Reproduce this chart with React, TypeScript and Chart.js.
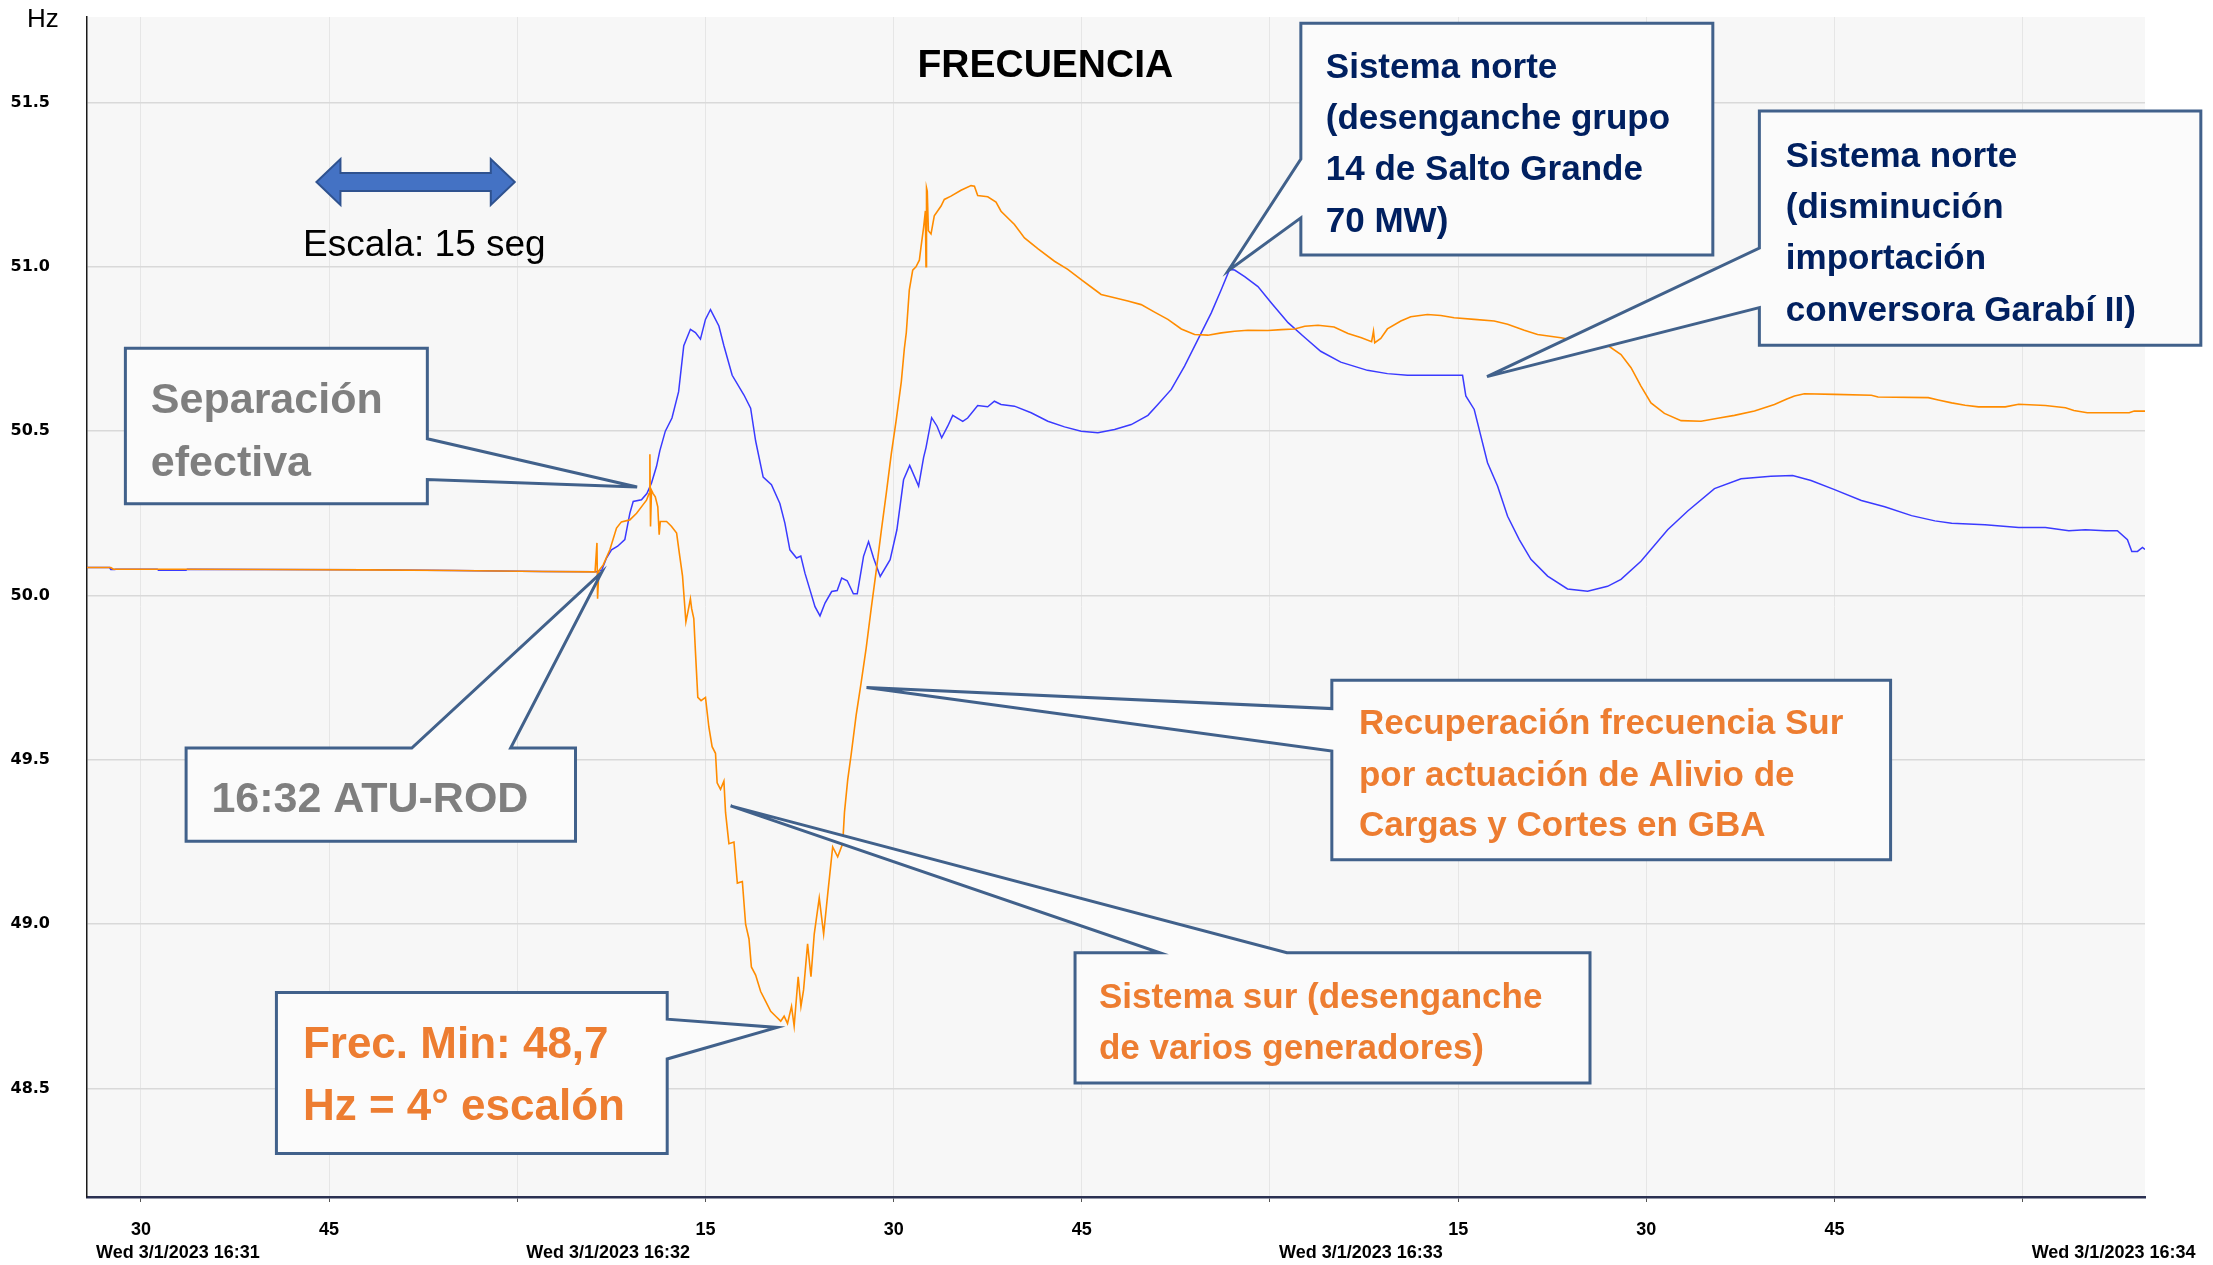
import React, { useEffect, useRef } from "react";
import { Chart, registerables } from "chart.js";

Chart.register(...registerables);

// time axis: seconds after Wed 3/1/2023 16:31:00
const xTickValues = [30, 45, 60, 75, 90, 105, 120, 135, 150, 165, 180];
const yTickValues = [48.5, 49.0, 49.5, 50.0, 50.5, 51.0, 51.5];
const minuteStarts = [0, 60, 120, 180];
const minuteLabels = [
  "Wed 3/1/2023 16:31",
  "Wed 3/1/2023 16:32",
  "Wed 3/1/2023 16:33",
  "Wed 3/1/2023 16:34",
];

// Sistema sur (orange)
const surT = [
  25.7, 27.6, 27.8, 33.0, 40.0, 48.0, 55.0, 62.0, 66.2, 66.35, 66.4, 66.5, 66.85, 67.38, 67.91, 68.3, 68.97,
  69.51, 70.0, 70.3, 70.5, 70.57, 70.62, 70.7, 70.83, 71.0, 71.2, 71.31, 71.4, 71.9, 72.3, 72.7, 72.95, 73.17,
  73.44, 73.6, 73.8, 73.9, 74.07, 74.2, 74.39, 74.65, 75.0, 75.27, 75.53, 75.8, 75.93, 76.2, 76.47, 76.6,
  76.87, 77.27, 77.54, 77.94, 78.2, 78.47, 78.66, 79.0, 79.4, 79.8, 80.2, 80.6, 81.0, 81.27, 81.54, 81.86,
  82.07, 82.39, 82.61, 82.82, 83.14, 83.41, 83.67, 84.07, 84.42, 84.74, 85.14, 85.54, 85.94, 86.08, 86.34,
  86.61, 87.01, 87.41, 87.81, 88.21, 88.61, 89.01, 89.41, 89.81, 90.21, 90.61, 90.85, 91.01, 91.25, 91.52,
  91.78, 92.05, 92.18, 92.39, 92.53, 92.58, 92.62, 92.68, 92.77, 92.98, 93.24, 93.78, 94.04, 94.57, 95.37,
  96.17, 96.44, 96.7, 97.5, 98.16, 98.56, 99.63, 100.43, 101.49, 102.82, 103.88, 104.95, 106.01, 106.54,
  107.61, 108.67, 109.73, 110.8, 111.86, 112.93, 113.99, 115.05, 116.12, 117.18, 118.24, 119.84, 120.9,
  121.96, 122.77, 123.83, 125.11, 126.22, 127.29, 128.1, 128.25, 128.35, 128.83, 129.36, 130.43, 131.22,
  132.55, 133.62, 134.68, 136.28, 137.87, 138.94, 140.27, 141.33, 143.19, 145.05, 146.91, 147.98, 148.78,
  149.57, 150.37, 151.44, 152.77, 154.36, 155.69, 157.02, 158.62, 160.21, 161.2, 161.81, 162.6, 165.0,
  167.94, 168.47, 172.47, 173.27, 174.34, 175.41, 176.48, 178.61, 179.68, 181.81, 183.41, 184.08, 185.15,
  188.49, 188.89, 189.75,
];
const surHz = [
  50.085, 50.085, 50.08, 50.08, 50.079, 50.078, 50.076, 50.073, 50.072, 50.16, 49.99, 50.075, 50.093, 50.139,
  50.205, 50.224, 50.23, 50.25, 50.275, 50.29, 50.31, 50.43, 50.21, 50.32, 50.31, 50.3, 50.27, 50.185, 50.225,
  50.225, 50.21, 50.19, 50.12, 50.06, 49.92, 49.95, 49.99, 49.96, 49.93, 49.83, 49.69, 49.68, 49.69, 49.6,
  49.54, 49.52, 49.43, 49.41, 49.435, 49.34, 49.245, 49.25, 49.125, 49.13, 49.0, 48.955, 48.87, 48.845,
  48.795, 48.765, 48.735, 48.72, 48.705, 48.72, 48.698, 48.75, 48.69, 48.84, 48.75, 48.8, 48.94, 48.84, 48.97,
  49.08, 48.97, 49.09, 49.235, 49.205, 49.245, 49.34, 49.44, 49.515, 49.635, 49.735, 49.84, 49.96, 50.075,
  50.195, 50.31, 50.43, 50.535, 50.65, 50.75, 50.8, 50.93, 50.99, 51.0, 51.02, 51.06, 51.12, 51.17, 51.0,
  51.24, 51.23, 51.11, 51.1, 51.155, 51.185, 51.205, 51.215, 51.233, 51.247, 51.245, 51.217, 51.213, 51.197,
  51.169, 51.129, 51.088, 51.055, 51.017, 50.992, 50.961, 50.931, 50.916, 50.906, 50.896, 50.885, 50.862,
  50.84, 50.811, 50.794, 50.792, 50.799, 50.804, 50.807, 50.806, 50.809, 50.811, 50.819, 50.822, 50.817,
  50.797, 50.784, 50.772, 50.804, 50.769, 50.782, 50.811, 50.835, 50.848, 50.855, 50.852, 50.845, 50.84,
  50.835, 50.825, 50.807, 50.794, 50.784, 50.771, 50.761, 50.733, 50.693, 50.637, 50.586, 50.554, 50.532,
  50.53, 50.539, 50.548, 50.561, 50.581, 50.598, 50.607, 50.614, 50.612, 50.609, 50.604, 50.602, 50.595,
  50.586, 50.579, 50.574, 50.574, 50.582, 50.578, 50.571, 50.563, 50.556, 50.556, 50.561, 50.561,
];

// Sistema norte (blue)
const norteT = [
  25.7, 27.5, 27.6, 27.9, 28.0, 31.3, 31.4, 33.6, 33.7, 40.0, 48.0, 55.0, 62.0, 66.3, 66.73, 67.11, 67.51,
  68.0, 68.57, 68.97, 69.24, 69.9, 70.33, 70.7, 71.1, 71.36, 71.8, 72.33, 72.86, 73.27, 73.8, 74.2, 74.6,
  75.0, 75.4, 76.07, 76.47, 77.13, 78.07, 78.6, 79.0, 79.6, 80.26, 80.93, 81.33, 81.73, 82.26, 82.6, 82.93,
  83.33, 83.73, 84.13, 84.53, 85.06, 85.5, 85.86, 86.3, 86.79, 87.1, 87.6, 88.0, 88.4, 88.93, 89.72, 90.26,
  90.79, 91.28, 91.99, 92.39, 92.58, 93.03, 93.46, 93.83, 94.31, 94.71, 95.51, 95.9, 96.7, 97.5, 98.03, 98.56,
  99.63, 100.96, 102.29, 103.62, 104.95, 106.28, 107.61, 108.94, 110.27, 111.06, 112.13, 113.19, 114.26,
  115.32, 116.12, 116.78, 117.18, 117.98, 119.04, 120.11, 121.44, 122.77, 124.04, 125.64, 127.77, 129.36,
  130.96, 133.09, 135.35, 135.61, 136.28, 136.81, 137.34, 138.14, 138.94, 139.87, 140.8, 142.13, 143.72,
  145.32, 146.91, 147.98, 149.57, 151.7, 153.3, 155.43, 157.55, 159.93, 161.66, 163.13, 165.0, 167.14, 169.0,
  171.14, 173.0, 174.34, 177.0, 179.68, 181.81, 183.68, 185.0, 186.6, 187.55, 188.35, 188.7, 189.15, 189.55,
  189.75,
];
const norteHz = [
  50.085, 50.085, 50.079, 50.079, 50.08, 50.08, 50.077, 50.077, 50.08, 50.079, 50.078, 50.076, 50.073, 50.072,
  50.077, 50.114, 50.139, 50.15, 50.17, 50.25, 50.286, 50.291, 50.31, 50.342, 50.393, 50.44, 50.5, 50.54,
  50.62, 50.76, 50.81, 50.8, 50.78, 50.84, 50.87, 50.82, 50.76, 50.67, 50.61, 50.57, 50.47, 50.36, 50.337,
  50.28, 50.22, 50.139, 50.114, 50.12, 50.068, 50.017, 49.966, 49.938, 49.977, 50.012, 50.015, 50.053,
  50.045, 50.005, 50.005, 50.119, 50.164, 50.114, 50.058, 50.109, 50.2, 50.352, 50.396, 50.333, 50.42, 50.45,
  50.541, 50.515, 50.48, 50.515, 50.548, 50.53, 50.54, 50.578, 50.574, 50.591, 50.581, 50.576, 50.556, 50.53,
  50.513, 50.5, 50.495, 50.505, 50.52, 50.548, 50.581, 50.627, 50.698, 50.779, 50.86, 50.931, 50.992, 50.99,
  50.97, 50.94, 50.89, 50.83, 50.785, 50.743, 50.71, 50.685, 50.675, 50.67, 50.67, 50.67, 50.607, 50.566,
  50.485, 50.404, 50.333, 50.241, 50.17, 50.11, 50.059, 50.02, 50.013, 50.028, 50.049, 50.104, 50.2, 50.257,
  50.325, 50.355, 50.363, 50.365, 50.35, 50.322, 50.289, 50.27, 50.243, 50.227, 50.22, 50.215, 50.207, 50.207,
  50.197, 50.2, 50.197, 50.197, 50.17, 50.134, 50.134, 50.146, 50.14,
];

const SANS = '"Liberation Sans", Arial, sans-serif';
const GRAY = "#7f7f7f";
const ORANGE = "#ed7d31";
const NAVY = "#002060";

type Callout = {
  lines: string[];
  color: string;
  size: number;
  box: [number, number, number, number]; // tLeft, hzTop, tRight, hzBottom
  side: "left" | "right" | "top";
  attach: [number, number];
  tip: [number, number];
  textT: number;
  lineHz: number[];
};

const callouts: Callout[] = [
  {
    lines: ["Separación", "efectiva"], color: GRAY, size: 43,
    box: [28.76, 50.752, 52.83, 50.279], side: "right", attach: [50.477, 50.353], tip: [69.55, 50.33],
    textT: 30.79, lineHz: [50.601, 50.41],
  },
  {
    lines: ["16:32 ATU-ROD"], color: GRAY, size: 43,
    box: [33.6, 49.536, 64.64, 49.252], side: "top", attach: [51.59, 59.47], tip: [66.72, 50.07],
    textT: 35.62, lineHz: [49.386],
  },
  {
    lines: ["Frec. Min: 48,7", "Hz = 4° escalón"], color: ORANGE, size: 44,
    box: [40.8, 48.792, 71.95, 48.302], side: "right", attach: [48.711, 48.59], tip: [80.71, 48.686],
    textT: 42.91, lineHz: [48.643, 48.454],
  },
  {
    lines: ["Sistema sur (desenganche", "de varios generadores)"], color: ORANGE, size: 35,
    box: [104.46, 48.913, 145.51, 48.517], side: "top", attach: [111.22, 121.35], tip: [77.0, 49.36],
    textT: 106.36, lineHz: [48.784, 48.629],
  },
  {
    lines: ["Recuperación frecuencia Sur", "por actuación de Alivio de", "Cargas y Cortes en GBA"],
    color: ORANGE, size: 35,
    box: [124.93, 49.742, 169.47, 49.196], side: "left", attach: [49.656, 49.527], tip: [87.84, 49.72],
    textT: 127.09, lineHz: [49.618, 49.459, 49.308],
  },
  {
    lines: ["Sistema norte", "(desenganche grupo", "14 de Salto Grande", "70 MW)"], color: NAVY, size: 35,
    box: [122.46, 51.741, 155.3, 51.036], side: "left", attach: [51.328, 51.149], tip: [116.67, 50.988],
    textT: 124.45, lineHz: [51.612, 51.457, 51.302, 51.144],
  },
  {
    lines: ["Sistema norte", "(disminución", "importación", "conversora Garabí II)"], color: NAVY, size: 35,
    box: [159.01, 51.474, 194.2, 50.761], side: "left", attach: [51.057, 50.876], tip: [137.3, 50.666],
    textT: 161.12, lineHz: [51.342, 51.186, 51.031, 50.873],
  },
];

const scaleArrow = { t1: 43.99, t2: 59.8, hz: 51.258, label: "Escala: 15 seg", labelT: 52.59, labelHz: 51.074 };
const titleText = { text: "FRECUENCIA", t: 102.09, hz: 51.62 };

const bgPlugin = {
  id: "bgPlugin",
  beforeDraw(chart: any) {
    const { ctx, chartArea } = chart;
    ctx.save();
    ctx.fillStyle = "#f7f7f7";
    ctx.fillRect(chartArea.left, chartArea.top, chartArea.right - chartArea.left, chartArea.bottom - chartArea.top);
    ctx.restore();
  },
};

const overlayPlugin = {
  id: "overlayPlugin",
  afterDraw(chart: any) {
    const { ctx, chartArea } = chart;
    const xs = chart.scales.x;
    const ys = chart.scales.y;
    const px = (t: number) => xs.getPixelForValue(t);
    const py = (h: number) => ys.getPixelForValue(h);
    const off = (size: number) => Math.round(size * 0.08);
    ctx.save();

    // Hz unit label
    ctx.fillStyle = "#000";
    ctx.font = `26px ${SANS}`;
    ctx.textAlign = "left";
    ctx.textBaseline = "middle";
    ctx.fillText("Hz", 27, chartArea.top + 3);

    // date labels
    ctx.font = `bold 18px ${SANS}`;
    ctx.textBaseline = "middle";
    minuteStarts.forEach((t, i) => {
      const x = Math.max(px(t), chartArea.left) + 9;
      ctx.fillText(minuteLabels[i], x, chartArea.bottom + 56);
    });

    // title
    ctx.font = `bold 39px ${SANS}`;
    ctx.textAlign = "center";
    ctx.fillText(titleText.text, px(titleText.t), py(titleText.hz) + off(39));

    // scale arrow
    const ax1 = px(scaleArrow.t1);
    const ax2 = px(scaleArrow.t2);
    const ay = py(scaleArrow.hz);
    const hl = 24, hh = 23, sh = 9;
    ctx.beginPath();
    ctx.moveTo(ax1, ay);
    ctx.lineTo(ax1 + hl, ay - hh);
    ctx.lineTo(ax1 + hl, ay - sh);
    ctx.lineTo(ax2 - hl, ay - sh);
    ctx.lineTo(ax2 - hl, ay - hh);
    ctx.lineTo(ax2, ay);
    ctx.lineTo(ax2 - hl, ay + hh);
    ctx.lineTo(ax2 - hl, ay + sh);
    ctx.lineTo(ax1 + hl, ay + sh);
    ctx.lineTo(ax1 + hl, ay + hh);
    ctx.closePath();
    ctx.fillStyle = "#4472c4";
    ctx.fill();
    ctx.strokeStyle = "#2f528f";
    ctx.lineWidth = 2;
    ctx.stroke();
    ctx.fillStyle = "#000";
    ctx.font = `37px ${SANS}`;
    ctx.textAlign = "center";
    ctx.fillText(scaleArrow.label, px(scaleArrow.labelT), py(scaleArrow.labelHz) + off(37));

    // callouts
    callouts.forEach((c) => {
      const L = px(c.box[0]);
      const T = py(c.box[1]);
      const R = px(c.box[2]);
      const B = py(c.box[3]);
      const tx = px(c.tip[0]);
      const ty = py(c.tip[1]);
      ctx.beginPath();
      if (c.side === "right") {
        const a = py(c.attach[0]);
        const b = py(c.attach[1]);
        ctx.moveTo(L, T);
        ctx.lineTo(R, T);
        ctx.lineTo(R, a);
        ctx.lineTo(tx, ty);
        ctx.lineTo(R, b);
        ctx.lineTo(R, B);
        ctx.lineTo(L, B);
      } else if (c.side === "left") {
        const a = py(c.attach[0]);
        const b = py(c.attach[1]);
        ctx.moveTo(L, T);
        ctx.lineTo(R, T);
        ctx.lineTo(R, B);
        ctx.lineTo(L, B);
        ctx.lineTo(L, b);
        ctx.lineTo(tx, ty);
        ctx.lineTo(L, a);
      } else {
        const a = px(c.attach[0]);
        const b = px(c.attach[1]);
        ctx.moveTo(L, T);
        ctx.lineTo(a, T);
        ctx.lineTo(tx, ty);
        ctx.lineTo(b, T);
        ctx.lineTo(R, T);
        ctx.lineTo(R, B);
        ctx.lineTo(L, B);
      }
      ctx.closePath();
      ctx.fillStyle = "#fbfbfb";
      ctx.fill();
      ctx.strokeStyle = "#41618b";
      ctx.lineWidth = 3;
      ctx.lineJoin = "miter";
      ctx.stroke();

      ctx.fillStyle = c.color;
      ctx.font = `bold ${c.size}px ${SANS}`;
      ctx.textAlign = "left";
      ctx.textBaseline = "middle";
      c.lines.forEach((line, i) => {
        ctx.fillText(line, px(c.textT), py(c.lineHz[i]) + off(c.size));
      });
    });

    ctx.restore();
  },
};

export default function App() {
  const canvasRef = useRef<HTMLCanvasElement | null>(null);

  useEffect(() => {
    document.body.style.margin = "0";
    document.body.style.overflow = "hidden";
    const canvas = canvasRef.current;
    if (!canvas) return;

    const surData = surT.map((t, i) => ({ x: t, y: surHz[i] }));
    const norteData = norteT.map((t, i) => ({ x: t, y: norteHz[i] }));

    const chart = new Chart(canvas, {
      type: "line",
      data: {
        datasets: [
          {
            label: "Sistema sur",
            data: surData,
            borderColor: "#ff8c00",
            borderWidth: 1.6,
            pointRadius: 0,
            tension: 0,
            fill: false,
          },
          {
            label: "Sistema norte",
            data: norteData,
            borderColor: "#3a3aff",
            borderWidth: 1.5,
            pointRadius: 0,
            tension: 0,
            fill: false,
          },
        ],
      },
      options: {
        responsive: false,
        animation: false,
        events: [],
        layout: { padding: { left: 0, top: 17, right: 68, bottom: 0 } },
        plugins: {
          legend: { display: false },
          tooltip: { enabled: false },
          title: { display: false },
        },
        scales: {
          x: {
            type: "linear",
            min: 25.7,
            max: 189.75,
            afterBuildTicks: (s: any) => {
              s.ticks = xTickValues.map((v) => ({ value: v }));
            },
            afterFit: (s: any) => {
              s.height = 68;
              s.paddingLeft = 0;
              s.paddingRight = 0;
            },
            grid: { color: "#e6e6e6", lineWidth: 1, drawTicks: true, tickLength: 5, tickColor: "#555" },
            border: { color: "#2b3152", width: 2.5 },
            ticks: {
              autoSkip: false,
              maxRotation: 0,
              color: "#000",
              padding: 17,
              font: { family: SANS, size: 18, weight: "bold" },
              callback: (v: any) => (Number(v) % 60 === 0 ? "" : String(Number(v) % 60)),
            },
          },
          y: {
            type: "linear",
            min: 48.17,
            max: 51.76,
            afterBuildTicks: (s: any) => {
              s.ticks = yTickValues.map((v) => ({ value: v }));
            },
            afterFit: (s: any) => {
              s.width = 87;
              s.paddingTop = 0;
              s.paddingBottom = 0;
            },
            grid: { color: "#d9d9d9", lineWidth: 1.5, drawTicks: false },
            border: { color: "#1a1a1a", width: 1.5 },
            ticks: {
              color: "#000",
              padding: 37,
              font: { family: '"DejaVu Sans", sans-serif', size: 16, weight: "bold" },
              callback: (v: any) => Number(v).toFixed(1),
            },
          },
        },
      },
      plugins: [bgPlugin, overlayPlugin],
    } as any);

    return () => chart.destroy();
  }, []);

  return (
    <div style={{ width: 2213, height: 1265 }}>
      <canvas ref={canvasRef} width={2213} height={1265} style={{ display: "block" }} />
    </div>
  );
}
